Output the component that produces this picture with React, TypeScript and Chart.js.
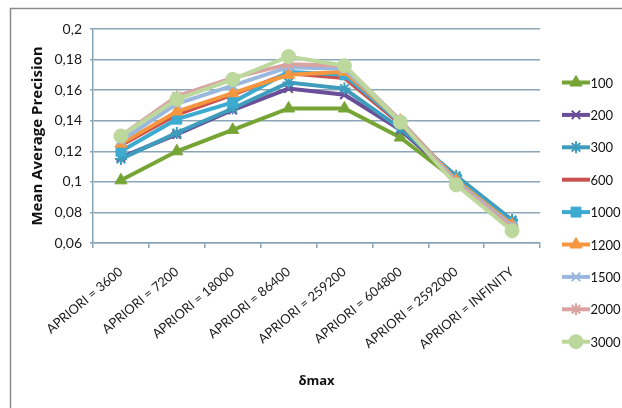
import React, { useEffect, useRef } from 'react';
import { Chart, registerables } from 'chart.js';
import { drawPoint } from 'chart.js/helpers';

Chart.register(...registerables);

const categories = [
  'APRIORI = 3600',
  'APRIORI = 7200',
  'APRIORI = 18000',
  'APRIORI = 86400',
  'APRIORI = 259200',
  'APRIORI = 604800',
  'APRIORI = 2592000',
  'APRIORI = INFINITY',
];

const seriesNames = ['100', '200', '300', '600', '1000', '1200', '1500', '2000', '3000'];

const s100 = [0.101, 0.12, 0.134, 0.148, 0.148, 0.129, 0.101, 0.073];
const s200 = [0.116, 0.131, 0.147, 0.161, 0.157, 0.134, 0.102, 0.074];
const s300 = [0.115, 0.132, 0.148, 0.165, 0.161, 0.135, 0.104, 0.075];
const s600 = [0.124, 0.144, 0.157, 0.171, 0.168, 0.138, 0.102, 0.072];
const s1000 = [0.12, 0.141, 0.152, 0.172, 0.17, 0.139, 0.102, 0.073];
const s1200 = [0.125, 0.146, 0.158, 0.17, 0.172, 0.14, 0.101, 0.072];
const s1500 = [0.127, 0.151, 0.163, 0.175, 0.174, 0.14, 0.1, 0.071];
const s2000 = [0.13, 0.156, 0.168, 0.177, 0.176, 0.14, 0.099, 0.07];
const s3000 = [0.13, 0.154, 0.167, 0.182, 0.176, 0.139, 0.098, 0.068];

const seriesValues = [s100, s200, s300, s600, s1000, s1200, s1500, s2000, s3000];

const yMin = 0.06;
const yMax = 0.2;
const yStep = 0.02;

// styles (kept apart from data)
const colors = ['#76a535', '#6a4e97', '#3e9cbc', '#c9524e', '#3daad0', '#f6963f', '#9ab8de', '#d9a3a2', '#bcd89d'];
const markers = ['triangle', 'crossRot', 'star', 'circle', 'rect', 'triangle', 'crossRot', 'star', 'circle'];
const markerRadius = [7, 6, 6, 0, 7, 7, 6, 6, 7];

const FONT = 'Lato, "Open Sans", sans-serif';
const TITLE_FONT = '"Open Sans", Lato, sans-serif';

const framePlugin = {
  id: 'frame',
  beforeDraw(chart: any) {
    const ctx = chart.ctx;
    ctx.save();
    ctx.fillStyle = '#ffffff';
    ctx.fillRect(0, 0, chart.width, chart.height);
    ctx.strokeStyle = '#8c8c8c';
    ctx.lineWidth = 1.5;
    ctx.strokeRect(10.5, 8.5, 800, 600);
    ctx.restore();
  },
};

const legendPlugin = {
  id: 'customLegend',
  afterDraw(chart: any) {
    const ctx = chart.ctx;
    const y0 = 82.5;
    const dy = 32.4;
    chart.data.datasets.forEach((ds: any, i: number) => {
      const y = y0 + i * dy;
      ctx.save();
      ctx.strokeStyle = ds.borderColor;
      ctx.lineWidth = 4;
      ctx.lineCap = 'butt';
      ctx.beginPath();
      ctx.moveTo(562, y);
      ctx.lineTo(590, y);
      ctx.stroke();
      if (ds.pointRadius > 0) {
        ctx.fillStyle = ds.pointBackgroundColor;
        ctx.strokeStyle = ds.pointBorderColor;
        ctx.lineWidth = ds.pointBorderWidth;
        drawPoint(ctx, { pointStyle: ds.pointStyle, radius: ds.pointRadius, rotation: 0, borderWidth: ds.pointBorderWidth }, 576, y);
      }
      ctx.fillStyle = '#111';
      ctx.font = `13px ${FONT}`;
      ctx.textAlign = 'left';
      ctx.textBaseline = 'middle';
      ctx.fillText(ds.label, 590.5, y + 1);
      ctx.restore();
    });
  },
};

export default function App() {
  const ref = useRef<HTMLCanvasElement>(null);
  useEffect(() => {
    document.body.style.margin = '0';
    const canvas = ref.current!;
    const datasets = seriesNames.map((name, i) => {
      const cross = markers[i] === 'star' || markers[i] === 'crossRot';
      return {
        label: name,
        data: seriesValues[i],
        borderColor: colors[i],
        backgroundColor: colors[i],
        borderWidth: 4,
        pointStyle: markers[i],
        pointRadius: markerRadius[i],
        pointHoverRadius: markerRadius[i],
        pointBackgroundColor: colors[i],
        pointBorderColor: colors[i],
        pointBorderWidth: cross ? 2 : 1,
        tension: 0,
        fill: false,
        order: seriesNames.length - i,
      };
    });
    const chart = new Chart(canvas, {
      type: 'line',
      data: { labels: categories, datasets },
      plugins: [framePlugin, legendPlugin],
      options: {
        responsive: false,
        animation: false,
        devicePixelRatio: 1,
        layout: { padding: { left: 0, right: 82, top: 29, bottom: 0 } },
        plugins: {
          legend: { display: false },
          tooltip: { enabled: false },
        },
        scales: {
          x: {
            type: 'category',
            offset: true,
            afterFit: (s: any) => {
              s.height = 165;
            },
            grid: {
              display: true,
              offset: true,
              drawOnChartArea: false,
              drawTicks: true,
              tickLength: 5,
              color: '#8aa4b8',
              lineWidth: 1.5,
            },
            border: { display: true, color: '#8aa4b8', width: 1.5 },
            ticks: {
              minRotation: 40,
              maxRotation: 40,
              autoSkip: false,
              color: '#1a1a1a',
              padding: 16,
              font: { family: FONT, size: 13 },
            },
            title: {
              display: true,
              text: 'δmax',
              color: '#111',
              font: { family: TITLE_FONT, size: 13, weight: 'bold' },
              padding: { top: 0, bottom: 19 },
            },
          },
          y: {
            min: yMin,
            max: yMax,
            afterFit: (s: any) => {
              s.width = 93;
            },
            grid: {
              color: '#8aa4b8',
              lineWidth: 1.5,
              drawTicks: true,
              tickLength: 3,
            },
            border: { display: true, color: '#8aa4b8', width: 1.5 },
            ticks: {
              stepSize: yStep,
              color: '#1a1a1a',
              padding: 8,
              font: { family: FONT, size: 14 },
              callback: (v: any) => String(Number(Number(v).toFixed(2))).replace('.', ','),
            },
            title: {
              display: true,
              text: 'Mean Average Precision',
              color: '#111',
              font: { family: TITLE_FONT, size: 15, weight: 'bold' },
              padding: { top: 29, bottom: 0 },
            },
          },
        },
      } as any,
    });
    return () => chart.destroy();
  }, []);
  return (
    <div style={{ position: 'fixed', left: 0, top: 0, width: 622, height: 408, overflow: 'hidden', background: '#fff' }}>
      <canvas ref={ref} width={622} height={408} style={{ display: 'block', width: 622, height: 408 }} />
    </div>
  );
}
